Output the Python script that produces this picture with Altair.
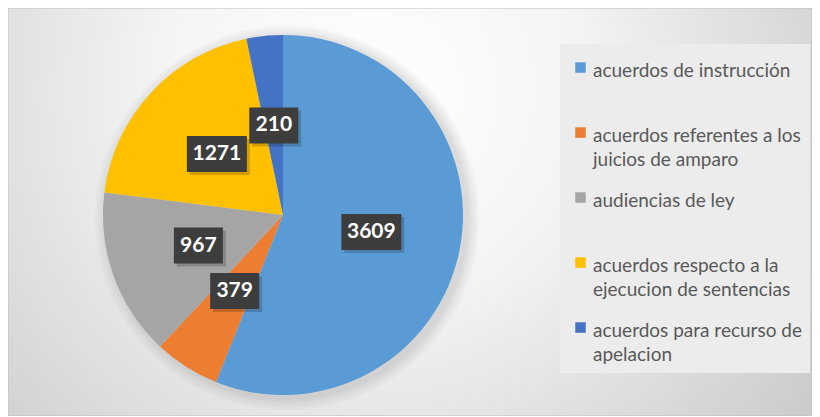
import altair as alt
import pandas as pd

categories = [
    "acuerdos de instrucción| ",
    "acuerdos referentes a los|juicios de amparo",
    "audiencias de ley| ",
    "acuerdos respecto a la|ejecucion de sentencias",
    "acuerdos para recurso de|apelacion",
]
values = [3609, 379, 967, 1271, 210]
colors = ["#5B9BD5", "#ED7D31", "#A5A5A5", "#FFC000", "#4472C4"]

df = pd.DataFrame({"cat": categories, "value": values, "idx": list(range(len(values)))})

W, H = 804, 408
CX, CY, R = 275, 207, 180
LR = 90

bg = alt.Chart(pd.DataFrame({"a": [0]})).mark_rect(
    color=alt.Gradient(
        gradient="radial",
        stops=[alt.GradientStop(offset=0, color="#ffffff"),
               alt.GradientStop(offset=0.35, color="#f4f4f4"),
               alt.GradientStop(offset=1, color="#c4c4c4")],
        x1=0.45, y1=0.35, r1=0, x2=0.45, y2=0.35, r2=0.75,
    ),
    stroke="#bfbfbf", strokeWidth=1,
).encode(x=alt.value(0), x2=alt.value(W), y=alt.value(0), y2=alt.value(H))

shadow_layers = []
for k in [12, 9, 6, 4, 2]:
    shadow_layers.append(
        alt.Chart(pd.DataFrame({"a": [1]})).mark_arc(
            outerRadius=R + k, color="#9a9a9a", opacity=0.07
        ).encode(theta=alt.value(6.2832), x=alt.value(CX + 4), y=alt.value(CY + 3))
    )

base = alt.Chart(df)

pie = base.mark_arc(outerRadius=R).encode(
    theta=alt.Theta("value:Q", stack=True),
    order=alt.Order("idx:Q"),
    color=alt.Color(
        "cat:N",
        scale=alt.Scale(domain=categories, range=colors),
        sort=categories,
        legend=alt.Legend(
            orient="none", legendX=552, legendY=36, title=None,
            symbolType="M-1,0.15H1V2.15H-1Z", symbolSize=110, symbolStrokeWidth=0,
            symbolOffset=3,
            labelFont="Lato", labelFontSize=19, labelColor="#595959",
            labelExpr="split(datum.label, '|')", labelLimit=0,
            labelOffset=3, rowPadding=12,
            fillColor="#ececec", padding=8, labelBaseline="top",
        ),
    ),
    x=alt.value(CX), y=alt.value(CY),
)

lab = base.transform_joinaggregate(total="sum(value)").transform_window(
    cum="sum(value)", sort=[alt.SortField("idx")], frame=[None, 0]
).transform_calculate(
    mid="(datum.cum - datum.value/2) / datum.total * 2 * PI",
    cx=f"{CX} + {LR} * sin(datum.mid)",
    cy=f"{CY} - {LR} * cos(datum.mid)",
    w="11 * length(toString(datum.value)) + 16",
    bx1="datum.cx - datum.w/2", bx2="datum.cx + datum.w/2",
    by1="datum.cy - 18", by2="datum.cy + 18",
    sx1="datum.bx1 + 3", sx2="datum.bx2 + 3", sy1="datum.by1 + 3", sy2="datum.by2 + 3",
)

box_shadow = lab.mark_rect(color="#000000", opacity=0.18).encode(
    x=alt.X("sx1:Q", scale=None), x2="sx2:Q",
    y=alt.Y("sy1:Q", scale=None), y2="sy2:Q",
)
box = lab.mark_rect(color="#3d3d3d").encode(
    x=alt.X("bx1:Q", scale=None), x2="bx2:Q",
    y=alt.Y("by1:Q", scale=None), y2="by2:Q",
)
txt = lab.mark_text(font="Lato", fontWeight="bold", fontSize=21, color="white",
                    baseline="middle", align="center").encode(
    x=alt.X("cx:Q", scale=None), y=alt.Y("cy:Q", scale=None), text="value:Q",
)

chart = alt.layer(bg, *shadow_layers, pie, box_shadow, box, txt).properties(
    width=W, height=H, autosize=alt.AutoSizeParams(type="none"), padding=0,
).configure(
    view=alt.ViewConfig(stroke=None),
    style={"guide-label": {"lineHeight": 24}},
)

chart.save("out.html", embed_options={"renderer": "svg", "actions": False})
